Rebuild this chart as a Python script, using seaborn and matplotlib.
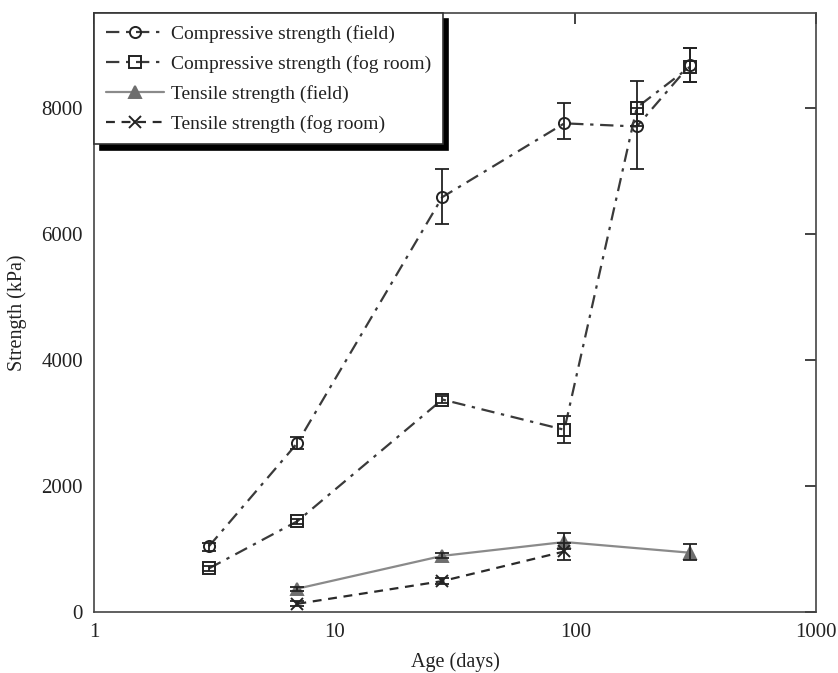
import numpy as np
import pandas as pd
import matplotlib
matplotlib.use("Agg")
import matplotlib.pyplot as plt
import seaborn as sns

# ---- data ----
comp_field_age = [3, 7, 28, 90, 180, 300]
comp_field_val = [1040, 2680, 6580, 7750, 7700, 8680]
comp_field_lo = [960, 2590, 6150, 7500, 7030, 8400]
comp_field_hi = [1100, 2770, 7020, 8080, 8000, 8950]

comp_fog_age = [3, 7, 28, 90, 180, 300]
comp_fog_val = [690, 1440, 3370, 2890, 8000, 8650]
comp_fog_lo = [650, 1400, 3320, 2680, 7700, 8400]
comp_fog_hi = [730, 1480, 3420, 3110, 8420, 8950]

ten_field_age = [7, 28, 90, 300]
ten_field_val = [370, 890, 1110, 940]
ten_field_lo = [340, 850, 1000, 830]
ten_field_hi = [400, 930, 1250, 1080]

ten_fog_age = [7, 28, 90]
ten_fog_val = [130, 490, 960]
ten_fog_lo = [90, 440, 830]
ten_fog_hi = [170, 540, 1100]

labels = ["Compressive strength (field)", "Compressive strength (fog room)",
          "Tensile strength (field)", "Tensile strength (fog room)"]
x_ticks = [1, 10, 100, 1000]
y_ticks = [0, 2000, 4000, 6000, 8000]

sns.set_theme(style="white")
plt.rcParams['font.family'] = ['Liberation Serif', 'DejaVu Serif']
plt.rcParams['mathtext.fontset'] = 'stix'

fig = plt.figure(figsize=(8.38, 6.73), dpi=100)
ax = fig.add_axes([94/838, 1-612/673, (816-94)/838, (612-13)/673])

series = [
    (comp_field_age, comp_field_val, comp_field_lo, comp_field_hi, labels[0],
     dict(color="#3a3a3a", linestyle=(0, (6, 3, 1.5, 3)), marker="o",
          markerfacecolor="none", markeredgecolor="#222222", markersize=8)),
    (comp_fog_age, comp_fog_val, comp_fog_lo, comp_fog_hi, labels[1],
     dict(color="#3a3a3a", linestyle=(0, (6, 3, 1.5, 3)), marker="s",
          markerfacecolor="none", markeredgecolor="#222222", markersize=8)),
    (ten_field_age, ten_field_val, ten_field_lo, ten_field_hi, labels[2],
     dict(color="#8a8a8a", linestyle="-", marker="^",
          markerfacecolor="#6e6e6e", markeredgecolor="#6e6e6e", markersize=8)),
    (ten_fog_age, ten_fog_val, ten_fog_lo, ten_fog_hi, labels[3],
     dict(color="#2a2a2a", linestyle=(0, (4, 3)), marker="x",
          markeredgecolor="#222222", markersize=8)),
]

for age, val, lo, hi, lab, st in series:
    df = pd.DataFrame({"age": age, "val": val})
    sns.lineplot(data=df, x="age", y="val", ax=ax, label=lab, linewidth=1.6,
                 markeredgewidth=1.4, **st)
    yerr = [np.array(val) - np.array(lo), np.array(hi) - np.array(val)]
    ax.errorbar(age, val, yerr=yerr, fmt="none", ecolor="#222222",
                elinewidth=1.3, capsize=5, capthick=1.3)

ax.set_xscale("log")
ax.set_xlim(1, 1000)
ax.set_ylim(0, 9500)
ax.set_xticks(x_ticks)
ax.set_xticklabels([str(t) for t in x_ticks])
ax.set_yticks(y_ticks)
ax.set_yticklabels([str(t) for t in y_ticks])
ax.minorticks_off()
ax.tick_params(axis="both", which="major", direction="in", length=8, width=1.2,
               top=True, right=True, labelsize=15, colors="#222222", pad=8)
for s in ax.spines.values():
    s.set_color("#444444")
    s.set_linewidth(1.2)
ax.set_xlabel("Age (days)", fontsize=14.5, color="#222222", labelpad=7)
ax.set_ylabel("Strength (kPa)", fontsize=14.5, color="#222222", labelpad=10)

leg = ax.legend(loc="upper left", borderaxespad=0, fontsize=14, frameon=True,
                fancybox=False, handlelength=3.0, handletextpad=0.35,
                borderpad=0.6, labelspacing=0.62,
                shadow={"ox": 4, "oy": -4, "color": "black", "alpha": 1})
leg.get_frame().set_edgecolor("#333333")
leg.get_frame().set_linewidth(1.2)
for t in leg.get_texts():
    t.set_color("#222222")

fig.savefig("out.png", dpi=100, facecolor="white")
